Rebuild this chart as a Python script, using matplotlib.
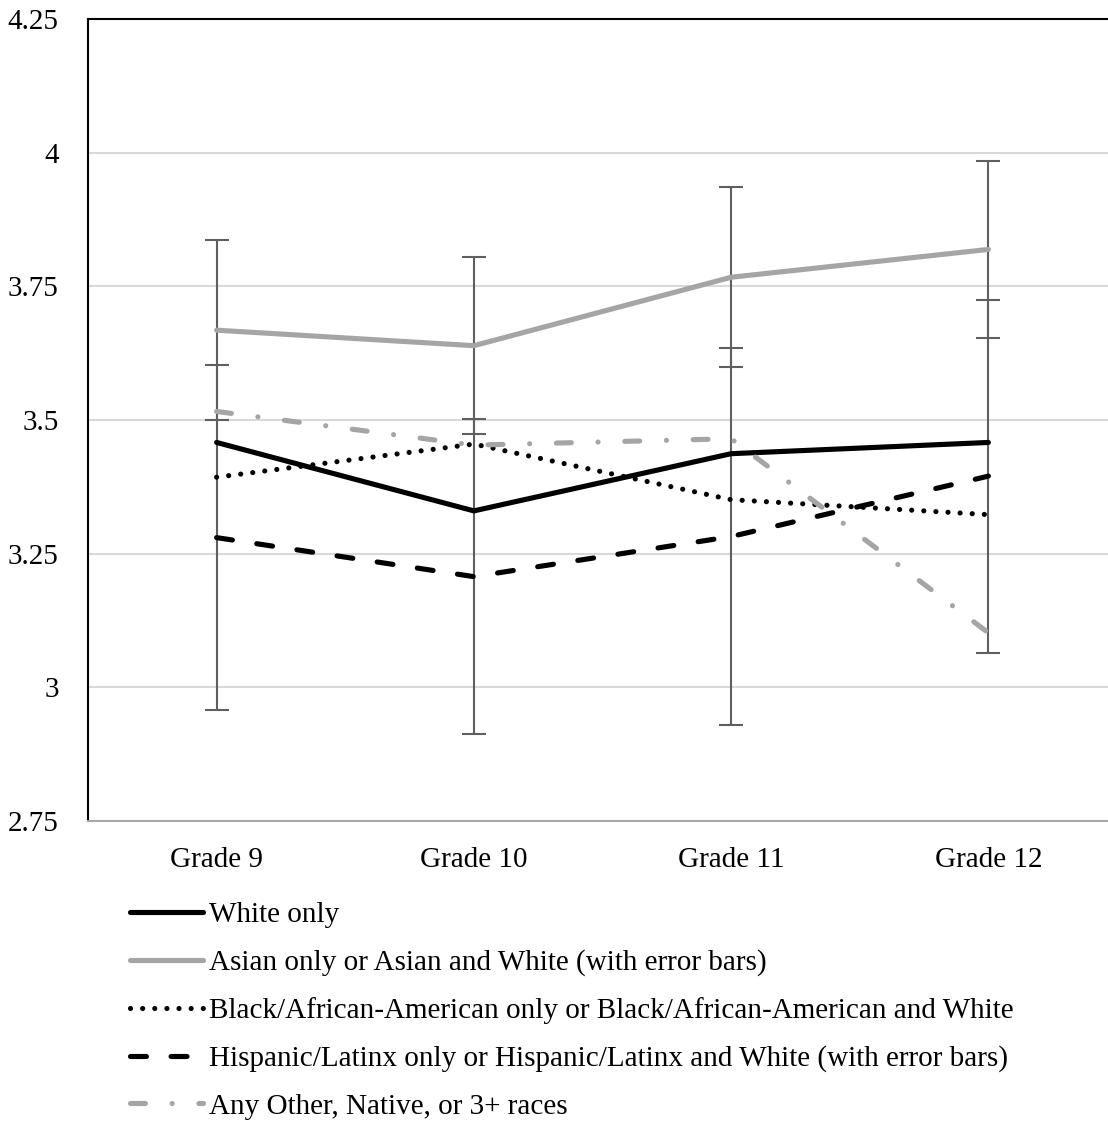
import numpy as np
from matplotlib import pyplot as plt

plt.rcParams['font.family'] = ['Liberation Serif', 'DejaVu Serif']
plt.rcParams['font.size'] = 21

grades = ['Grade 9', 'Grade 10', 'Grade 11', 'Grade 12']
white = [3.458, 3.330, 3.437, 3.458]
asian = [3.668, 3.639, 3.767, 3.819]
asian_err = [0.168, 0.165, 0.168, 0.166]
black = [3.393, 3.455, 3.351, 3.323]
hispanic = [3.280, 3.207, 3.282, 3.395]
hispanic_err = [0.322, 0.294, 0.353, 0.330]
other = [3.516, 3.453, 3.465, 3.102]

labels = [
    'White only',
    'Asian only or Asian and White (with error bars)',
    'Black/African-American only or Black/African-American and White',
    'Hispanic/Latinx only or Hispanic/Latinx and White (with error bars)',
    'Any Other, Native, or 3+ races',
]

fig = plt.figure(figsize=(11.08, 11.25), dpi=100)
ax = fig.add_axes([88/1108, 304/1125, 1029/1108, 802/1125])
x = np.arange(len(grades))

# error bars sit behind the lines
ax.errorbar(x, asian, yerr=asian_err, fmt='none', ecolor='#5f5f5f',
            elinewidth=1.5, capsize=8.5, capthick=1.5, zorder=2)
ax.errorbar(x, hispanic, yerr=hispanic_err, fmt='none', ecolor='#5f5f5f',
            elinewidth=1.5, capsize=8.5, capthick=1.5, zorder=2)

lw = 3.7
ax.plot(x, white, color='black', lw=lw, solid_capstyle='round', label=labels[0], zorder=3)
ax.plot(x, asian, color='#a5a5a5', lw=lw, solid_capstyle='round', label=labels[1], zorder=3)
ax.plot(x, black, color='black', lw=lw, linestyle=(0, (0.01, 2.35)),
        dash_capstyle='round', label=labels[2], zorder=3)
ax.plot(x, hispanic, color='black', lw=lw, linestyle=(0, (3.1, 4.8)),
        dash_capstyle='round', label=labels[3], zorder=3)
ax.plot(x, other, color='#a5a5a5', lw=lw, linestyle=(0, (2.9, 5.2, 0.01, 5.2)),
        dash_capstyle='round', label=labels[4], zorder=3)

ax.set_xlim(-0.5, 3.5)
ax.set_ylim(2.75, 4.25)
ax.set_xticks(x)
ax.set_xticklabels(grades)
yt = [2.75, 3, 3.25, 3.5, 3.75, 4, 4.25]
ax.set_yticks(yt)
ax.set_yticklabels(['%g' % v for v in yt])
ax.tick_params(axis='y', length=0, pad=21)
ax.tick_params(axis='x', length=0, pad=18.5)
ax.grid(axis='y', color='#d9d9d9', lw=1.5)
ax.set_axisbelow(True)

ax.spines['right'].set_visible(False)
ax.spines['left'].set_color('black')
ax.spines['left'].set_linewidth(1.5)
ax.spines['top'].set_color('black')
ax.spines['top'].set_linewidth(1.5)
ax.spines['bottom'].set_color('#a6a6a6')
ax.spines['bottom'].set_linewidth(1.5)

fig.legend(loc='upper left', bbox_to_anchor=(130/1108, 1 - 902/1125),
           frameon=False, borderpad=0, borderaxespad=0,
           handlelength=2.5, handletextpad=0.2, labelspacing=0.72)

fig.savefig('out.png', dpi=100)
